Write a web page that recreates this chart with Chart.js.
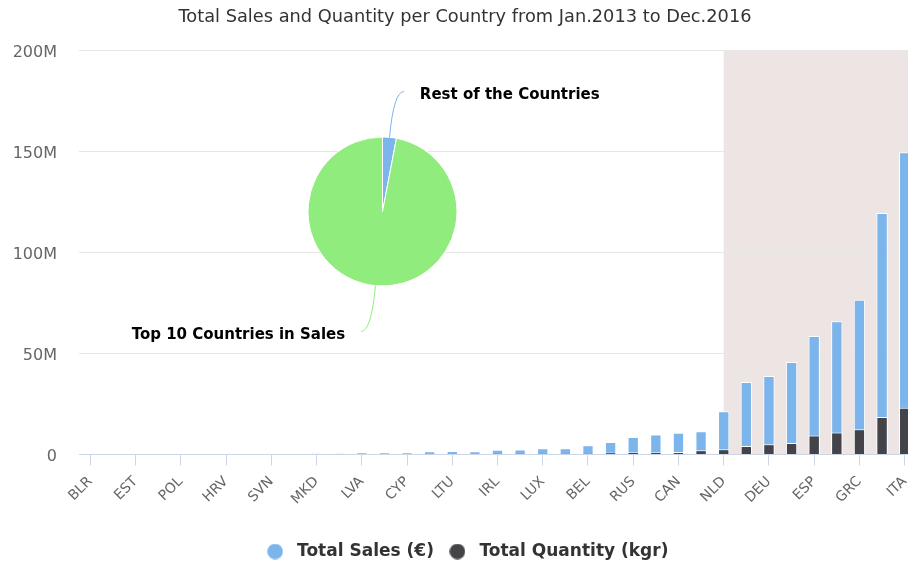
<!DOCTYPE html>
<html>
<head>
<meta charset="utf-8">
<title>Sales per Country</title>
<script src="https://cdn.jsdelivr.net/npm/chart.js@4"></script>
<style>
    html, body { margin: 0; padding: 0; background: #fff; overflow: hidden; }
    #wrap { position: relative; width: 930px; height: 570px; }
    #wrap canvas { position: absolute; left: 0; top: 0; }
    #pie-box { position: absolute; left: 0; top: 0; width: 930px; height: 570px; pointer-events: none; }
</style>
</head>
<body>
<div id="wrap">
    <canvas id="sales-chart"></canvas>
    <div id="pie-box"><canvas id="share-chart"></canvas></div>
</div>
<script>
// countries sorted by total sales, ascending
const countries = [
    'BLR', 'UKR', 'EST', 'ISL', 'POL', 'SRB', 'HRV', 'ROU', 'SVN', 'SVK',
    'MKD', 'HUN', 'LVA', 'CZE', 'CYP', 'MLT', 'LTU', 'DNK', 'IRL', 'FIN',
    'LUX', 'AUT', 'BEL', 'SWE', 'RUS', 'CHE', 'CAN', 'USA', 'NLD', 'FRA',
    'DEU', 'GBR', 'ESP', 'PRT', 'GRC', 'BGR', 'ITA'
];

// values in millions
const totalSales = [
    0, 0, 0, 0, 0, 0.1, 0.1, 0.1, 0.1, 0.15,
    0.4, 0.5, 0.8, 0.8, 0.9, 1.5, 1.7, 1.5, 2.3, 2.4,
    3.0, 3.1, 4.5, 6.1, 8.6, 9.9, 10.7, 11.5, 21.4, 35.8,
    38.8, 45.7, 58.6, 66.0, 76.6, 119.6, 149.7
];
const totalQuantity = [
    0, 0, 0, 0, 0, 0, 0, 0, 0, 0,
    0, 0, 0.1, 0.1, 0.1, 0.2, 0.2, 0.2, 0.3, 0.3,
    0.4, 0.4, 0.5, 0.9, 1.1, 1.1, 1.2, 2.0, 2.5, 4.1,
    5.0, 5.6, 9.4, 10.9, 12.4, 18.5, 23.1
];

const seriesNames = ['Total Sales (€)', 'Total Quantity (kgr)'];
const seriesColors = ['#7cb5ec', '#434348'];

const yMax = 200;
const yStep = 50;

// top 10 highlight starts here
const bandStart = 'NLD';

const shareLabels = ['Rest of the Countries', 'Top 10 Countries in Sales'];
const shareValues = [3, 97];
const shareColors = ['#7cb5ec', '#90ed7d'];

const FONT = '"DejaVu Sans", Verdana, sans-serif';
Chart.defaults.font.family = FONT;

// round legend markers, drawn as small canvases so the gap to the text can be set
const makeDot = (color) => {
    const c = document.createElement('canvas');
    c.width = 16;
    c.height = 16;
    const g = c.getContext('2d');
    g.fillStyle = color;
    g.beginPath();
    g.arc(8, 8, 7.8, 0, Math.PI * 2);
    g.fill();
    return c;
};
const dots = seriesColors.map(makeDot);

const bandPlugin = {
    id: 'topBand',
    beforeDraw(chart) {
        const { ctx, chartArea, scales } = chart;
        const left = scales.x.getPixelForValue(countries.indexOf(bandStart));
        ctx.save();
        ctx.fillStyle = '#ede4e4';
        ctx.fillRect(left, chartArea.top, chartArea.right - left, chartArea.bottom - chartArea.top);
        ctx.restore();
    }
};

new Chart(document.getElementById('sales-chart'), {
    type: 'bar',
    data: {
        labels: countries,
        datasets: [
            {
                label: seriesNames[0],
                data: totalSales,
                backgroundColor: seriesColors[0],
                borderColor: '#ffffff',
                borderWidth: 1,
                grouped: false,
                order: 1,
                categoryPercentage: 1,
                barPercentage: 0.5
            },
            {
                label: seriesNames[1],
                data: totalQuantity,
                backgroundColor: seriesColors[1],
                borderColor: '#ffffff',
                borderWidth: 1,
                grouped: false,
                order: 0,
                categoryPercentage: 1,
                barPercentage: 0.5
            }
        ]
    },
    options: {
        responsive: true,
        maintainAspectRatio: false,
        animation: false,
        layout: { padding: 0 },
        scales: {
            x: {
                offset: true,
                grid: {
                    offset: false,
                    drawOnChartArea: false,
                    tickLength: 11,
                    tickColor: (c) => (c.index % 2 ? 'rgba(0,0,0,0)' : '#ccd6eb')
                },
                border: { color: '#ccd6eb', width: 1 },
                ticks: {
                    autoSkip: false,
                    minRotation: 45,
                    maxRotation: 45,
                    padding: 8,
                    color: '#666666',
                    font: { size: 14 },
                    callback: (v, i) => (i % 2 ? '' : countries[i])
                },
                afterFit: (scale) => {
                    scale.height = 78.6;
                    scale.paddingLeft = 0;
                    scale.paddingRight = 14;
                }
            },
            y: {
                min: 0,
                max: yMax,
                ticks: {
                    stepSize: yStep,
                    padding: 22,
                    labelOffset: 2,
                    color: '#666666',
                    font: { size: 16 },
                    callback: (v) => (v === 0 ? '0' : v + 'M')
                },
                grid: {
                    drawTicks: false,
                    color: (c) => (c.tick && c.tick.value === 0 ? 'rgba(0,0,0,0)' : '#e6e6e6')
                },
                border: { display: false },
                afterFit: (scale) => { scale.width = 79; }
            }
        },
        plugins: {
            title: {
                display: true,
                text: 'Total Sales and Quantity per Country from Jan.2013 to Dec.2016',
                color: '#333333',
                font: { size: 17.8, weight: 'normal' },
                padding: { top: 7.2, bottom: 22 }
            },
            legend: {
                position: 'bottom',
                labels: {
                    usePointStyle: true,
                    pointStyleWidth: 27,
                    padding: 10,
                    color: '#333333',
                    font: { size: 17, weight: 'bold' },
                    generateLabels: (chart) => {
                        const items = Chart.defaults.plugins.legend.labels.generateLabels(chart);
                        items.forEach(item => { item.pointStyle = dots[item.datasetIndex]; });
                        return items.sort((a, b) => a.datasetIndex - b.datasetIndex);
                    }
                }
            },
            tooltip: { enabled: false }
        }
    },
    plugins: [bandPlugin]
});

// slice labels with curved connectors
const sliceLabelPlugin = {
    id: 'sliceLabels',
    afterDatasetsDraw(chart) {
        const ctx = chart.ctx;
        const meta = chart.getDatasetMeta(0);
        ctx.save();
        ctx.font = 'bold 15px ' + FONT;
        ctx.textBaseline = 'middle';
        meta.data.forEach((arc, i) => {
            const p = arc.getProps(['x', 'y', 'startAngle', 'endAngle', 'outerRadius'], true);
            const mid = (p.startAngle + p.endAngle) / 2;
            const cos = Math.cos(mid);
            const sin = Math.sin(mid);
            const side = cos >= 0 ? 1 : -1;
            const reach = p.outerRadius + 46;
            const sx = p.x + cos * p.outerRadius;
            const sy = p.y + sin * p.outerRadius;
            const kx = p.x + cos * reach;
            const ky = p.y + sin * reach;
            const ex = kx + side * 10;
            ctx.strokeStyle = shareColors[i];
            ctx.lineWidth = 1;
            ctx.beginPath();
            ctx.moveTo(sx, sy);
            ctx.quadraticCurveTo(kx, ky, ex, ky);
            ctx.stroke();
            ctx.fillStyle = '#000000';
            ctx.textAlign = side > 0 ? 'left' : 'right';
            ctx.fillText(shareLabels[i], ex + side * 16, ky + 3.5);
        });
        ctx.restore();
    }
};

new Chart(document.getElementById('share-chart'), {
    type: 'pie',
    data: {
        labels: shareLabels,
        datasets: [{
            data: shareValues,
            backgroundColor: shareColors,
            borderColor: '#ffffff',
            borderWidth: 1
        }]
    },
    options: {
        responsive: true,
        maintainAspectRatio: false,
        animation: false,
        layout: { padding: { left: 307.5, right: 472.5, top: 136.5, bottom: 283.5 } },
        plugins: {
            legend: { display: false },
            tooltip: { enabled: false }
        }
    },
    plugins: [sliceLabelPlugin]
});
</script>
</body>
</html>
